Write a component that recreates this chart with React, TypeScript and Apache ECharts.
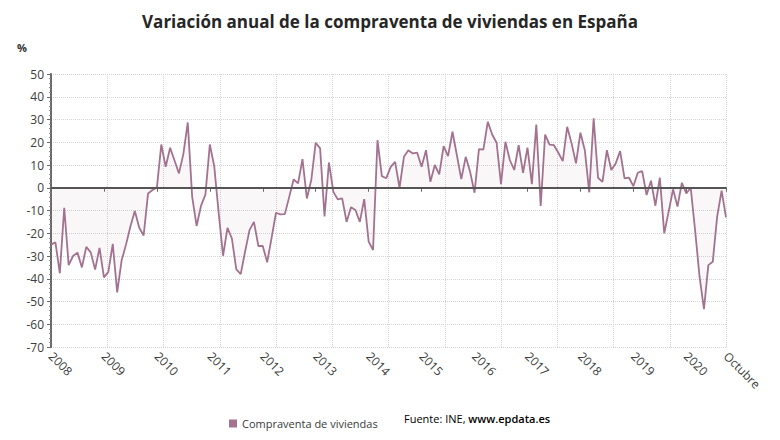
import { useEffect, useRef } from "react";
import * as echarts from "echarts";

// Year-on-year change (%) in home sales, monthly, Jan 2008 – Oct 2020
const years = [2008, 2009, 2010, 2011, 2012, 2013, 2014, 2015, 2016, 2017, 2018, 2019, 2020];
const lastMonthLabel = "Octubre";

const v2008 = [-25, -24, -37.6, -8.8, -34, -30, -28.5, -35, -26, -28.4, -36, -26.4];
const v2009 = [-39.4, -37, -24.7, -46, -32, -25, -17, -10.2, -17.6, -21, -2.5, -1];
const v2010 = [0, 19, 9.2, 17.6, 12, 6.3, 14.8, 28.7, -4, -16.8, -8, -3];
const v2011 = [19, 9.5, -11, -29.9, -17.6, -22.3, -35.9, -38, -28, -18.6, -15, -25.6];
const v2012 = [-25.6, -32.8, -22, -11, -11.7, -11.6, -4, 3.7, 1.9, 12.6, -4.7, 3.4];
const v2013 = [19.8, 17.3, -12.6, 11.1, -1.8, -5.1, -4.7, -15, -8.6, -9.8, -15, -5];
const v2014 = [-23.7, -27.4, 20.9, 5.1, 4.2, 9.2, 11.4, 0, 13.6, 16.5, 15.1, 15.4];
const v2015 = [9.2, 16.5, 2.6, 10, 5.9, 18.3, 13.9, 24.6, 14.3, 3.8, 13.6, 7];
const v2016 = [-2.2, 17, 16.8, 29, 23.4, 19.8, 1.6, 20.2, 12.2, 7.8, 18.7, 6.6];
const v2017 = [17.6, 1.6, 27.8, -8, 23.4, 19, 18.7, 15.4, 11.7, 26.8, 19.5, 10.7];
const v2018 = [24.2, 16.5, -2, 30.5, 4.4, 2.6, 16.5, 7.8, 10.7, 16.1, 4.1, 4.5];
const v2019 = [0.7, 6.6, 7.3, -3.2, 3.1, -7.9, 4.4, -20, -10.5, -0.7, -8.3, 2.2];
const v2020 = [-2.5, 0, -18.8, -39, -53.4, -34, -32.5, -12.7, -1.3, -13];

const values = [
  ...v2008, ...v2009, ...v2010, ...v2011, ...v2012, ...v2013, ...v2014,
  ...v2015, ...v2016, ...v2017, ...v2018, ...v2019, ...v2020,
];

// One category per month: "2008-01" ... "2020-10"
const categories: string[] = [];
years.forEach((y) => {
  for (let m = 1; m <= 12; m++) {
    if (categories.length < values.length) {
      categories.push(`${y}-${String(m).padStart(2, "0")}`);
    }
  }
});

const yMin = -70;
const yMax = 50;
const yStep = 10;

const titleText = "Variación anual de la compraventa de viviendas en España";
const seriesName = "Compraventa de viviendas";
const sourceLabel = "Fuente: INE, ";
const sourceSite = "www.epdata.es";

const FONT = "'Open Sans', 'Noto Sans', sans-serif";
const LINE = "#a3728f";

export default function App() {
  const ref = useRef<HTMLDivElement>(null);

  useEffect(() => {
    if (!ref.current) return;
    const chart = echarts.init(ref.current, undefined, { renderer: "svg" });
    const last = categories.length - 1;
    const isTick = (i: number) => i % 12 === 0 || i === last;

    chart.setOption({
      animation: false,
      backgroundColor: "#ffffff",
      textStyle: { fontFamily: FONT },
      title: {
        text: titleText,
        left: "center",
        top: 8,
        textStyle: { fontFamily: FONT, fontSize: 17, fontWeight: "bold", color: "#262626" },
      },
      legend: {
        left: 224,
        top: 413,
        icon: "rect",
        itemWidth: 8,
        itemHeight: 8,
        itemGap: 6,
        textStyle: { fontFamily: FONT, fontSize: 11, color: "#3a3a3a" },
        data: [seriesName],
      },
      graphic: [
        {
          type: "text",
          left: 17,
          top: 42,
          style: { text: "%", font: `bold 11px ${FONT}`, fill: "#333" },
        },
        {
          type: "text",
          left: 404,
          top: 413,
          style: {
            text: `{a|${sourceLabel}}{b|${sourceSite}}`,
            rich: {
              a: { fontFamily: FONT, fontSize: 11, color: "#3a3a3a" },
              b: { fontFamily: FONT, fontSize: 11, color: "#2a2a2a", fontWeight: 600 },
            },
          },
        },
      ],
      grid: { left: 51, right: 54, top: 74, bottom: 93 },
      xAxis: [
        {
          type: "category",
          data: categories,
          boundaryGap: false,
          axisLine: { show: true, lineStyle: { color: "#6a6a6a", width: 2 } },
          axisTick: {
            show: true,
            interval: (i: number) => isTick(i),
            length: 4,
            lineStyle: { color: "#6a6a6a" },
          },
          axisLabel: {
            interval: (i: number) => isTick(i),
            rotate: -45,
            margin: 7,
            fontFamily: FONT,
            fontSize: 12,
            color: "#3c3c3c",
            formatter: (val: string, i: number) =>
              i === last ? lastMonthLabel : val.slice(0, 4),
          },
          splitLine: { show: false },
        },
        {
          // evenly spaced vertical guide lines across the plot
          type: "value",
          min: 0,
          max: 12,
          interval: 1,
          position: "top",
          axisLine: { show: false },
          axisTick: { show: false },
          axisLabel: { show: false },
          splitLine: { show: true, lineStyle: { color: "#d6d0d8", type: "dotted", width: 1 } },
        },
      ],
      yAxis: {
        type: "value",
        min: yMin,
        max: yMax,
        interval: yStep,
        axisLine: { show: true, lineStyle: { color: "#6a6a6a", width: 2 } },
        axisTick: { show: true, length: 4, lineStyle: { color: "#6a6a6a" } },
        minorTick: { show: true, splitNumber: 5, length: 2, lineStyle: { color: "#8a8a8a" } },
        axisLabel: { fontFamily: FONT, fontSize: 12, color: "#3c3c3c", margin: 7 },
        splitLine: { show: true, lineStyle: { color: "#d4d4d4", type: "dotted", width: 1 } },
      },
      series: [
        {
          name: seriesName,
          type: "line",
          xAxisIndex: 0,
          data: values,
          showSymbol: false,
          symbol: "none",
          lineStyle: { color: LINE, width: 1.8 },
          itemStyle: { color: LINE },
          areaStyle: { color: "rgba(163,114,143,0.08)", origin: 0 },
          markLine: {
            silent: true,
            symbol: "none",
            label: { show: false },
            lineStyle: { color: "#555555", width: 2, type: "solid" },
            data: [{ yAxis: 0 }],
          },
          z: 3,
        },
      ],
    });

    return () => chart.dispose();
  }, []);

  return (
    <div
      ref={ref}
      style={{ position: "fixed", left: 0, top: 0, width: 780, height: 440 }}
    />
  );
}
